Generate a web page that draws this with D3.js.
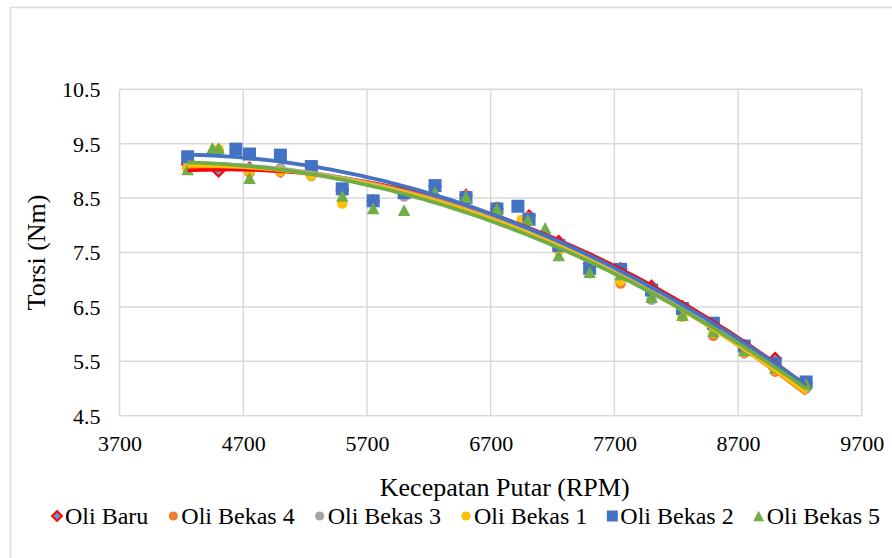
<!DOCTYPE html>
<html>
<head>
<meta charset="utf-8">
<script src="https://cdn.jsdelivr.net/npm/d3@7"></script>
<style>
  html, body { margin: 0; padding: 0; background: #fff; }
  svg { display: block; }
  svg text { font-family: "Liberation Serif", "DejaVu Serif", "Times New Roman", serif !important; fill: #000; }
</style>
</head>
<body>
<svg id="chart" width="892" height="558"></svg>
<script>
// Torque (Nm) against engine speed (RPM) for new and used oil samples
const seriesNames = ["Oli Baru", "Oli Bekas 4", "Oli Bekas 3", "Oli Bekas 1", "Oli Bekas 2", "Oli Bekas 5"];

const rpmOliBaru = [4250, 4500, 4750, 5000, 5250, 5500, 5750, 6000, 6250, 6500, 6750, 7010, 7250, 7500, 7750, 8000, 8250, 8500, 8750, 9000, 9250];
const torsiOliBaru = [9.12, 9.00, 9.05, 9.00, 8.95, 8.65, 8.45, 8.62, 8.72, 8.55, 8.30, 8.17, 7.70, 7.30, 7.20, 6.88, 6.50, 6.15, 5.78, 5.55, 5.10];

const rpmBekas4 = [4250, 4500, 4750, 5000, 5250, 5500, 5750, 6000, 6250, 6500, 6750, 7000, 7250, 7500, 7750, 8000, 8250, 8500, 8750, 9000, 9250];
const torsiBekas4 = [9.03, 9.38, 8.97, 8.98, 8.92, 8.62, 8.45, 8.62, 8.72, 8.55, 8.34, 8.15, 7.54, 7.20, 6.93, 6.80, 6.45, 5.97, 5.65, 5.31, 5.05];

const rpmBekas3 = [4250, 4500, 4750, 5000, 5250, 5500, 5750, 6000, 6250, 6500, 6750, 7000, 7250, 7500, 7750, 8000, 8250, 8500, 8750, 9000, 9250];
const torsiBekas3 = [9.10, 9.35, 9.05, 9.05, 8.90, 8.62, 8.45, 8.53, 8.72, 8.55, 8.30, 8.15, 7.60, 7.12, 7.00, 6.63, 6.45, 6.10, 5.75, 5.42, 5.00];

const rpmBekas1 = [4250, 4500, 4750, 5000, 5250, 5500, 5750, 6000, 6250, 6500, 6750, 6950, 7250, 7500, 7750, 8000, 8250, 8500, 8750, 9000, 9250];
const torsiBekas1 = [9.05, 9.40, 9.00, 9.00, 8.92, 8.40, 8.45, 8.62, 8.72, 8.55, 8.32, 8.10, 7.55, 7.20, 6.98, 6.75, 6.32, 6.02, 5.68, 5.35, 5.05];

const rpmBekas2 = [4250, 4640, 4750, 5000, 5250, 5500, 5750, 6000, 6250, 6500, 6750, 6920, 7010, 7250, 7500, 7750, 8000, 8250, 8500, 8750, 9000, 9250];
const torsiBekas2 = [9.26, 9.40, 9.31, 9.29, 9.08, 8.67, 8.45, 8.60, 8.73, 8.51, 8.30, 8.35, 8.11, 7.63, 7.21, 7.19, 6.81, 6.47, 6.20, 5.78, 5.46, 5.12];

const rpmBekas5 = [4250, 4450, 4500, 4750, 5500, 5750, 6000, 6250, 6500, 6750, 7000, 7140, 7250, 7500, 7750, 8000, 8250, 8500, 8750, 9000, 9250];
const torsiBekas5 = [9.03, 9.42, 9.42, 8.87, 8.54, 8.31, 8.28, 8.61, 8.52, 8.30, 8.10, 7.95, 7.45, 7.14, 7.10, 6.68, 6.35, 6.05, 5.70, 5.38, 5.08];

const xTicks = [3700, 4700, 5700, 6700, 7700, 8700, 9700];
const yTicks = [4.5, 5.5, 6.5, 7.5, 8.5, 9.5, 10.5];

const xTitle = "Kecepatan Putar (RPM)";
const yTitle = "Torsi (Nm)";

// ---- styling per series ----
const styles = [
  { shape: "diamond",  fill: "#5B9BD5", stroke: "#FF0000", line: "#FF0000" },
  { shape: "circle",   fill: "#ED7D31", stroke: "none",    line: "#ED7D31" },
  { shape: "circle",   fill: "#A5A5A5", stroke: "none",    line: "#A5A5A5" },
  { shape: "circle",   fill: "#FFC000", stroke: "none",    line: "#FFC000" },
  { shape: "square",   fill: "#4472C4", stroke: "none",    line: "#4472C4" },
  { shape: "triangle", fill: "#70AD47", stroke: "none",    line: "#70AD47" }
];

const rpmLists = [rpmOliBaru, rpmBekas4, rpmBekas3, rpmBekas1, rpmBekas2, rpmBekas5];
const torsiLists = [torsiOliBaru, torsiBekas4, torsiBekas3, torsiBekas1, torsiBekas2, torsiBekas5];

const series = seriesNames.map((name, i) => ({
  name,
  style: styles[i],
  points: rpmLists[i].map((r, j) => ({ rpm: r, torsi: torsiLists[i][j] }))
}));

const FONT = "'Liberation Serif', 'DejaVu Serif', 'Times New Roman', serif";
const svg = d3.select("#chart");

// chart frame
svg.append("rect")
  .attr("x", 10.5).attr("y", 7.5)
  .attr("width", 900).attr("height", 600)
  .attr("fill", "#fff").attr("stroke", "#d9d9d9").attr("stroke-width", 1.5);

const plot = { left: 119.6, right: 861.8, top: 89.3, bottom: 415.7 };

const x = d3.scaleLinear().domain([3700, 9700]).range([plot.left, plot.right]);
const y = d3.scaleLinear().domain([4.5, 10.5]).range([plot.bottom, plot.top]);

// gridlines
const grid = svg.append("g");
grid.selectAll("line.h").data(yTicks).join("line")
  .attr("x1", plot.left).attr("x2", plot.right)
  .attr("y1", d => y(d)).attr("y2", d => y(d))
  .attr("stroke", "#d9d9d9").attr("stroke-width", 1.5);
grid.selectAll("line.v").data(xTicks).join("line")
  .attr("y1", plot.top).attr("y2", plot.bottom)
  .attr("x1", d => x(d)).attr("x2", d => x(d))
  .attr("stroke", "#d9d9d9").attr("stroke-width", 1.5);

// axes (tick labels only; the axis lines coincide with the gridlines)
const xAxis = d3.axisBottom(x).tickValues(xTicks).tickSize(0).tickPadding(0).tickFormat(d3.format("d"));
const gx = svg.append("g").attr("transform", `translate(0,${plot.bottom})`).call(xAxis)
  .attr("font-family", FONT);
gx.select(".domain").remove();
gx.selectAll("text").attr("dy", null).attr("y", 35).attr("font-size", 22);

const yAxis = d3.axisLeft(y).tickValues(yTicks).tickSize(0).tickPadding(0).tickFormat(d3.format(".1f"));
const gy = svg.append("g").attr("transform", `translate(${plot.left - 19},0)`).call(yAxis)
  .attr("font-family", FONT);
gy.select(".domain").remove();
gy.selectAll("text").attr("font-size", 22).attr("dy", "0.34em");
svg.selectAll(".tick text").attr("fill", "#000");

// axis titles
svg.append("text")
  .attr("x", (plot.left + plot.right) / 2 + 14).attr("y", 496)
  .attr("text-anchor", "middle").attr("font-size", 26).attr("font-family", FONT)
  .text(xTitle);
svg.append("text")
  .attr("transform", `translate(45,${(plot.top + plot.bottom) / 2}) rotate(-90)`)
  .attr("text-anchor", "middle").attr("font-size", 26).attr("font-family", FONT)
  .text(yTitle);

// marker drawing
function drawMarker(g, shape, size) {
  if (shape === "circle") {
    g.append("circle").attr("r", size * 0.42);
  } else if (shape === "square") {
    g.append("rect").attr("x", -size / 2).attr("y", -size / 2).attr("width", size).attr("height", size);
  } else if (shape === "triangle") {
    const h = size * 0.95, w = size;
    g.append("path").attr("d", `M0,${-h / 2}L${w / 2},${h / 2}L${-w / 2},${h / 2}Z`);
  } else if (shape === "diamond") {
    const r = size * 0.45;
    g.append("path").attr("d", `M0,${-r}L${r},0L0,${r}L${-r},0Z`);
  }
  return g;
}

const markerLayer = svg.append("g");
series.forEach(s => {
  const g = markerLayer.append("g");
  s.points.forEach(p => {
    const m = g.append("g").attr("transform", `translate(${x(p.rpm)},${y(p.torsi)})`)
      .attr("fill", s.style.fill).attr("stroke", s.style.stroke)
      .attr("stroke-width", s.style.stroke === "none" ? 0 : 2);
    drawMarker(m, s.style.shape, s.style.shape === "square" ? 13 : 12.5);
  });
});

// second-order polynomial trendline fitted by least squares
function polyFit2(pts) {
  const xm = d3.mean(pts, p => p.rpm);
  const sc = 1000;
  const S = [0, 0, 0, 0, 0], T = [0, 0, 0];
  pts.forEach(p => {
    const u = (p.rpm - xm) / sc;
    let pw = 1;
    for (let k = 0; k <= 4; k++) { S[k] += pw; if (k <= 2) T[k] += pw * p.torsi; pw *= u; }
  });
  const A = [[S[0], S[1], S[2], T[0]], [S[1], S[2], S[3], T[1]], [S[2], S[3], S[4], T[2]]];
  for (let i = 0; i < 3; i++) {
    for (let r = i + 1; r < 3; r++) {
      const f = A[r][i] / A[i][i];
      for (let c = i; c < 4; c++) A[r][c] -= f * A[i][c];
    }
  }
  const c = [0, 0, 0];
  for (let i = 2; i >= 0; i--) {
    let v = A[i][3];
    for (let j = i + 1; j < 3; j++) v -= A[i][j] * c[j];
    c[i] = v / A[i][i];
  }
  return r => { const u = (r - xm) / sc; return c[0] + c[1] * u + c[2] * u * u; };
}

const lineLayer = svg.append("g");
const line = d3.line().x(d => x(d[0])).y(d => y(d[1]));
series.forEach(s => {
  const f = polyFit2(s.points);
  const [lo, hi] = d3.extent(s.points, p => p.rpm);
  const samples = d3.range(0, 101).map(i => {
    const r = lo + (hi - lo) * i / 100;
    return [r, f(r)];
  });
  lineLayer.append("path").datum(samples)
    .attr("d", line).attr("fill", "none")
    .attr("stroke", s.style.line).attr("stroke-width", 3.8)
    .attr("stroke-linecap", "butt");
});

// legend
const legendGap = 20;
const legend = svg.append("g");
let cursor = 0;
series.forEach(s => {
  const g = legend.append("g");
  const m = g.append("g").attr("transform", `translate(${cursor + 5},0)`)
    .attr("fill", s.style.fill).attr("stroke", s.style.stroke)
    .attr("stroke-width", s.style.stroke === "none" ? 0 : 2);
  drawMarker(m, s.style.shape, 11);
  const t = g.append("text").attr("x", cursor + 13).attr("dy", "0.34em")
    .attr("font-size", 24).attr("font-family", FONT).text(s.name);
  const w = t.node().getComputedTextLength();
  cursor += 13 + w + legendGap;
});
const total = cursor - legendGap;
legend.attr("transform", `translate(${466 - total / 2},516)`);
</script>
</body>
</html>
